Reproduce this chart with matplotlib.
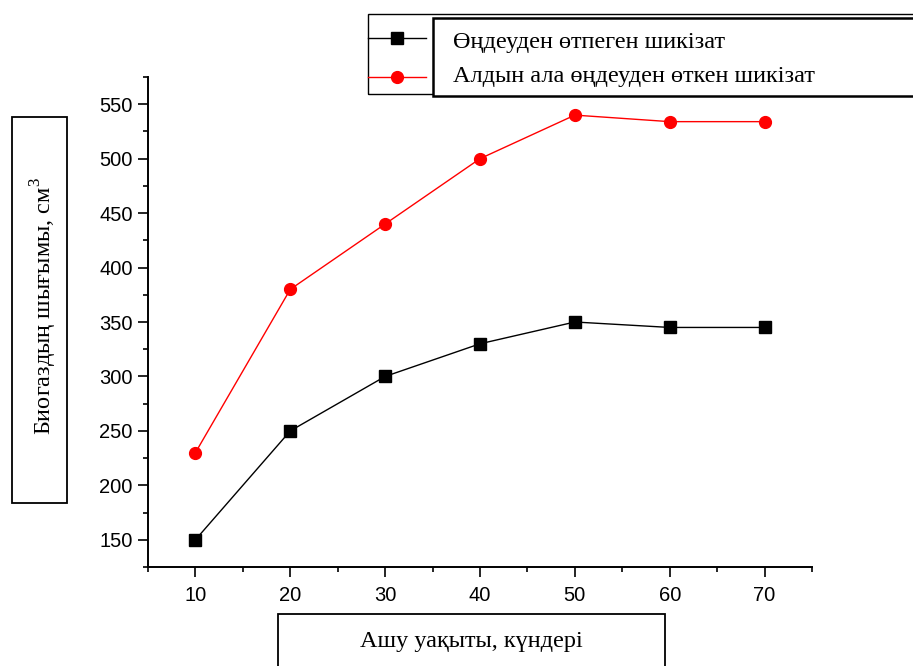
import matplotlib
matplotlib.use("Agg")
import matplotlib.pyplot as plt
from matplotlib.patches import Rectangle
from matplotlib.lines import Line2D
from matplotlib.ticker import MultipleLocator

days = [10, 20, 30, 40, 50, 60, 70]
untreated = [150, 250, 300, 330, 350, 345, 345]
pretreated = [230, 380, 440, 500, 540, 534, 534]
labels = ["Өңдеуден өтпеген шикізат", "Алдын ала өңдеуден өткен шикізат"]
xlabel = "Ашу уақыты, күндері"
ylabel = "Биогаздың шығымы, см$^{3}$"

plt.rcParams["mathtext.fontset"] = "custom"
plt.rcParams["mathtext.rm"] = "Liberation Serif"
SERIF = "Liberation Serif"
SANS = "Liberation Sans"
TXT = 17.5

W, H = 913, 666
fig = plt.figure(figsize=(W / 100, H / 100), dpi=100)


def fx(px):
    return px / W


def fy(py):
    return 1 - py / H


ax = fig.add_axes([fx(148), fy(567), fx(812) - fx(148), fy(77) - fy(567)])
ax.plot(days, untreated, color="black", lw=1, marker="s", ms=8, mec="black", mfc="black")
ax.plot(days, pretreated, color="red", lw=1, marker="o", ms=8.5, mec="red", mfc="red")

ax.set_xlim(5, 75)
ax.set_ylim(125, 575)
ax.xaxis.set_major_locator(MultipleLocator(10))
ax.xaxis.set_minor_locator(MultipleLocator(5))
ax.yaxis.set_major_locator(MultipleLocator(50))
ax.yaxis.set_minor_locator(MultipleLocator(25))
ax.set_xticks(days)
for s in ("top", "right"):
    ax.spines[s].set_visible(False)
for s in ("left", "bottom"):
    ax.spines[s].set_linewidth(1.4)
ax.tick_params(which="major", direction="out", length=7, width=1.2, labelsize=14.5)
ax.tick_params(which="minor", direction="out", length=3.5, width=1.2)
ax.tick_params(axis="y", pad=4)
ax.tick_params(axis="x", pad=7)
for t in ax.get_xticklabels() + ax.get_yticklabels():
    t.set_fontfamily(SANS)

# y label box
fig.patches.append(Rectangle((fx(12), fy(503)), fx(67) - fx(12), fy(117) - fy(503),
                             transform=fig.transFigure, fill=False, ec="black", lw=1.3))
fig.text(fx(44), fy(306), ylabel, rotation=90, ha="center", va="center",
         family=SERIF, fontsize=TXT)

# x label box
fig.patches.append(Rectangle((fx(278), fy(700)), fx(665) - fx(278), fy(614) - fy(700),
                             transform=fig.transFigure, fill=False, ec="black", lw=1.3,
                             clip_on=False))
fig.text(fx(471), fy(647), xlabel, ha="center", va="baseline", family=SERIF, fontsize=TXT)

# legend (outer + inner boxes)
fig.patches.append(Rectangle((fx(368), fy(94)), fx(960) - fx(368), fy(14) - fy(94),
                             transform=fig.transFigure, fill=False, ec="black", lw=1))
fig.patches.append(Rectangle((fx(433), fy(96)), fx(960) - fx(433), fy(18) - fy(96),
                             transform=fig.transFigure, fill=True, fc="white", ec="black", lw=1.8))
fig.lines.append(Line2D([fx(368), fx(426)], [fy(38), fy(38)], transform=fig.transFigure,
                        color="black", lw=1))
fig.lines.append(Line2D([fx(397)], [fy(38)], transform=fig.transFigure,
                        color="black", marker="s", ms=8, ls="none"))
fig.lines.append(Line2D([fx(368), fx(426)], [fy(77), fy(77)], transform=fig.transFigure,
                        color="red", lw=1))
fig.lines.append(Line2D([fx(397)], [fy(77)], transform=fig.transFigure,
                        color="red", marker="o", ms=8.5, ls="none"))
fig.text(fx(453), fy(48), labels[0], ha="left", va="baseline", family=SERIF, fontsize=TXT)
fig.text(fx(453), fy(82), labels[1], ha="left", va="baseline", family=SERIF, fontsize=TXT)

fig.savefig("out.png", dpi=100)
